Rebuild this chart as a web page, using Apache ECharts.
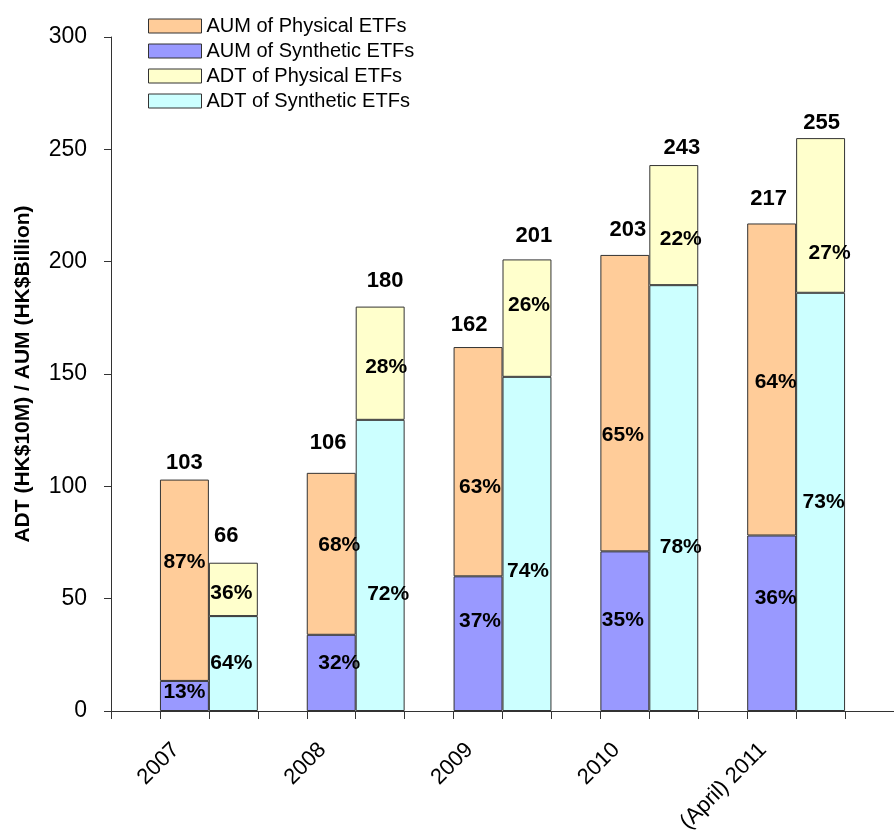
<!DOCTYPE html>
<html>
<head>
<meta charset="utf-8">
<script src="https://cdn.jsdelivr.net/npm/echarts@6/dist/echarts.min.js"></script>
<style>
  html, body { margin: 0; padding: 0; background: #ffffff; }
  #chart { width: 894px; height: 838px; }
</style>
</head>
<body>
<div id="chart"></div>
<script>
// ---- Data ----
const years = ['2007', '2008', '2009', '2010', '(April) 2011'];

// Assets under management (HK$ billion): totals and split in percent
const aumTotal        = [103, 106, 162, 203, 217];
const aumSyntheticPct = [13, 32, 37, 35, 36];
const aumPhysicalPct  = [87, 68, 63, 65, 64];

// Average daily turnover (HK$ 10M): totals and split in percent
const adtTotal        = [66, 180, 201, 243, 255];
const adtSyntheticPct = [64, 72, 74, 78, 73];
const adtPhysicalPct  = [36, 28, 26, 22, 27];

// Value axis ticks
const yMin = 0, yMax = 300, yStep = 50;

const names = {
  aumPhys: 'AUM of Physical ETFs',
  aumSyn: 'AUM of Synthetic ETFs',
  adtPhys: 'ADT of Physical ETFs',
  adtSyn: 'ADT of Synthetic ETFs'
};

// ---- Styling ----
const FONT = 'Liberation Sans, Arial, sans-serif';
const INK = '#000000';
const LINE = '#333333';
const colors = {
  aumPhys: '#FFCC99',
  aumSyn: '#9999FF',
  adtPhys: '#FFFFCC',
  adtSyn: '#CCFFFF'
};

// Hand-placed label nudges [dx, dy] in pixels, one per year
const nudge = {
  aumSyn:  [[0, -4], [8, -10], [2, -22], [-2, -11], [4, -25]],
  aumPhys: [[0, -18], [8, -9], [2, 26], [-2, 32], [4, 3]],
  adtSyn:  [[-2, 0], [8, 29], [1, 27], [7, 49], [3, 0]],
  adtPhys: [[-2, 4], [6, 4], [2, -13], [7, 14], [9, 38]],
  aumTot:  [[0, 4], [-3, -9], [-9, -1], [3, -4], [-3, -4]],
  adtTot:  [[-7, -6], [5, -5], [7, -2], [8, 4], [1, 6]]
};

// ---- Slot layout: each year takes three slots (gap, AUM, ADT), plus a trailing gap ----
const slotCount = years.length * 3 + 1;
const slotLabels = new Array(slotCount).fill('');
years.forEach((y, i) => { slotLabels[i * 3 + 1] = y; });

function emptySlots() { return new Array(slotCount).fill('-'); }

function partSeries(key, totals, pcts, offsetInYear) {
  const data = emptySlots();
  totals.forEach((t, i) => {
    data[i * 3 + offsetInYear] = {
      value: t * pcts[i] / 100,
      label: { formatter: pcts[i] + '%', offset: nudge[key][i] }
    };
  });
  return {
    name: names[key],
    type: 'bar',
    stack: 'all',
    barCategoryGap: '0%',
    data: data,
    itemStyle: { color: colors[key], borderColor: LINE, borderWidth: 1 },
    label: {
      show: true,
      position: 'inside',
      color: INK,
      fontFamily: FONT,
      fontWeight: 'bold',
      fontSize: 21
    },
    emphasis: { disabled: true },
    silent: true
  };
}

// Zero-height bar sitting on top of each stack, carrying the total label
const totalData = emptySlots();
aumTotal.forEach((t, i) => {
  totalData[i * 3 + 1] = { value: 0, label: { formatter: String(t), offset: nudge.aumTot[i] } };
});
adtTotal.forEach((t, i) => {
  totalData[i * 3 + 2] = { value: 0, label: { formatter: String(t), offset: nudge.adtTot[i] } };
});

const option = {
  backgroundColor: '#ffffff',
  animation: false,
  textStyle: { fontFamily: FONT },
  grid: { left: 111, top: 37, bottom: 127, right: -6, containLabel: false },
  legend: {
    orient: 'vertical',
    left: 143,
    top: 11,
    icon: 'rect',
    itemWidth: 53,
    itemHeight: 14,
    itemGap: 5,
    selectedMode: false,
    data: [names.aumPhys, names.aumSyn, names.adtPhys, names.adtSyn],
    itemStyle: { borderColor: LINE, borderWidth: 1 },
    textStyle: { fontFamily: FONT, fontSize: 20, color: INK, padding: [0, 0, 0, 0] }
  },
  xAxis: {
    type: 'category',
    data: slotLabels,
    boundaryGap: true,
    axisLine: { show: true, lineStyle: { color: LINE, width: 1 } },
    axisTick: { show: true, interval: 0, length: 8, lineStyle: { color: LINE } },
    axisLabel: {
      interval: 0,
      rotate: 45,
      margin: 27,
      padding: [0, 12, 0, 0],
      fontSize: 22,
      color: INK,
      fontFamily: FONT
    },
    splitLine: { show: false }
  },
  yAxis: {
    type: 'value',
    min: yMin,
    max: yMax,
    interval: yStep,
    name: 'ADT (HK$10M) / AUM (HK$Billion)',
    nameLocation: 'middle',
    nameGap: 77,
    nameTextStyle: { fontFamily: FONT, fontWeight: 'bold', fontSize: 21, color: INK },
    axisLine: { show: true, lineStyle: { color: LINE, width: 1 } },
    axisTick: { show: true, length: 7, lineStyle: { color: LINE } },
    axisLabel: { fontSize: 23, color: INK, margin: 24, fontFamily: FONT },
    splitLine: { show: false }
  },
  series: [
    partSeries('aumSyn', aumTotal, aumSyntheticPct, 1),
    partSeries('aumPhys', aumTotal, aumPhysicalPct, 1),
    partSeries('adtSyn', adtTotal, adtSyntheticPct, 2),
    partSeries('adtPhys', adtTotal, adtPhysicalPct, 2),
    {
      name: 'Total',
      type: 'bar',
      stack: 'all',
      barCategoryGap: '0%',
      data: totalData,
      itemStyle: { color: 'rgba(0,0,0,0)', borderWidth: 0 },
      label: {
        show: true,
        position: 'top',
        distance: 10,
        color: INK,
        fontFamily: FONT,
        fontWeight: 'bold',
        fontSize: 22
      },
      emphasis: { disabled: true },
      silent: true
    }
  ]
};

const chart = echarts.init(document.getElementById('chart'), null, { renderer: 'canvas' });
chart.setOption(option);
</script>
</body>
</html>
